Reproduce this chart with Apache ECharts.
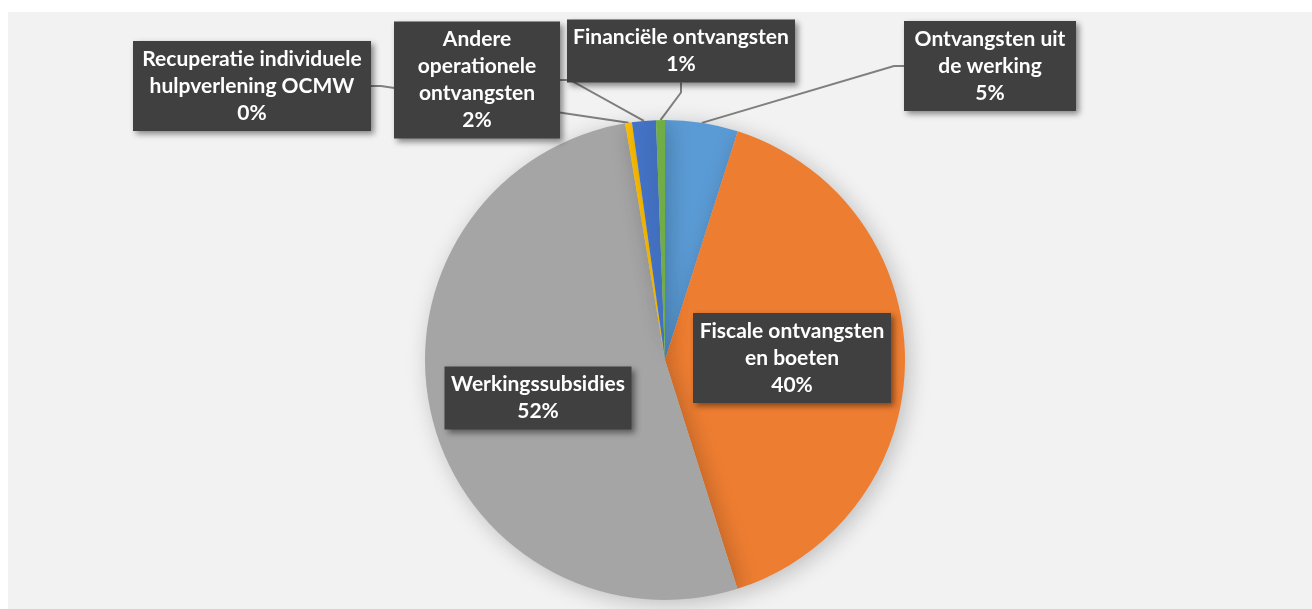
<!DOCTYPE html>
<html>
<head>
<meta charset="utf-8">
<script src="https://cdn.jsdelivr.net/npm/echarts@6/dist/echarts.min.js"></script>
<style>
  html, body { margin: 0; padding: 0; background: #fff; }
  #chart { width: 1312px; height: 609px; }
</style>
</head>
<body>
<div id="chart"></div>
<script>
// categories (clockwise from 12 o'clock)
const categories = [
  'Ontvangsten uit de werking',
  'Fiscale ontvangsten en boeten',
  'Werkingssubsidies',
  'Recuperatie individuele hulpverlening OCMW',
  'Andere operationele ontvangsten',
  'Financiële ontvangsten'
]
// how the label text wraps in the boxes
const labelLines = [
  'Ontvangsten uit\nde werking',
  'Fiscale ontvangsten\nen boeten',
  'Werkingssubsidies',
  'Recuperatie individuele\nhulpverlening OCMW',
  'Andere\noperationele\nontvangsten',
  'Financiële ontvangsten'
]
// share of the total (%)
const values = [4.9, 40.2, 52.2, 0.45, 1.6, 0.6]
const colors = ['#5b9bd5', '#ed7d31', '#a5a5a5', '#ffc000', '#4472c4', '#70ad47']

// label boxes: centre position and width
const labelPos = [[990, 66], [792, 358], [538, 398], [252, 86], [477, 80], [681, 51]]
const labelWidth = [162, 188, 177, 228, 156, 218]
const insideLabel = [false, true, true, false, false, false]

const chart = echarts.init(document.getElementById('chart'))

const seriesData = categories.map((name, i) => ({
  name: name,
  value: values[i],
  itemStyle: { color: colors[i] },
  label: {
    position: insideLabel[i] ? 'inside' : 'outside',
    width: labelWidth[i]
  },
  labelLine: { show: !insideLabel[i] }
}))

const option = {
  backgroundColor: '#fff',
  animation: false,
  graphic: [
    {
      type: 'rect',
      z: -10,
      silent: true,
      shape: { x: 8, y: 12, width: 1304, height: 597 },
      style: { fill: '#f2f2f2' }
    }
  ],
  series: [
    {
      type: 'pie',
      center: [665, 360],
      radius: [0, 240],
      startAngle: 90,
      clockwise: true,
      percentPrecision: 0,
      data: seriesData,
      itemStyle: {
        borderWidth: 0,
        shadowBlur: 22,
        shadowColor: 'rgba(0, 0, 0, 0.22)',
        shadowOffsetX: 4,
        shadowOffsetY: 4
      },
      label: {
        formatter: (p) => labelLines[p.dataIndex] + '\n' + p.percent + '%',
        color: '#fff',
        fontFamily: 'Lato',
        fontWeight: 'bold',
        fontSize: 21,
        lineHeight: 27,
        align: 'center',
        overflow: 'none',
        backgroundColor: '#404040',
        padding: [5, 5, 4, 5],
        shadowBlur: 6,
        shadowColor: 'rgba(0, 0, 0, 0.45)',
        shadowOffsetX: 3,
        shadowOffsetY: 3
      },
      labelLine: {
        show: true,
        length: 10,
        length2: 10,
        smooth: false,
        lineStyle: { color: '#7f7f7f', width: 2 }
      },
      labelLayout: (params) => ({
        x: labelPos[params.dataIndex][0],
        y: labelPos[params.dataIndex][1],
        align: 'center',
        verticalAlign: 'middle'
      }),
      emphasis: { disabled: true }
    }
  ]
}

chart.setOption(option)
</script>
</body>
</html>
